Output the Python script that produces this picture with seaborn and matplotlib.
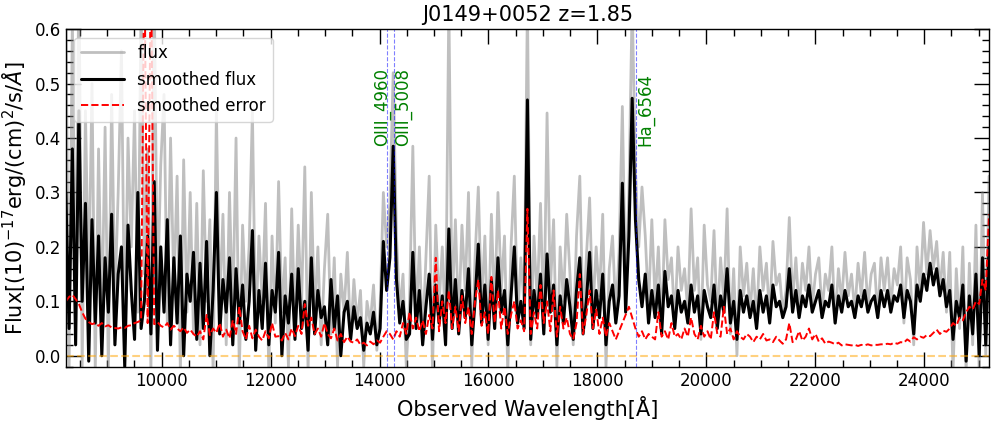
import numpy as np
import matplotlib
matplotlib.use("Agg")
import matplotlib.pyplot as plt
import seaborn as sns
from matplotlib.ticker import MultipleLocator

# spectrum, one value per ~60 A step (rows of 10 = 600 A)
wave_min, wave_max = 8240, 25190
redshift = 1.85

smooth_flux = [
    0.30, 0.05, 0.38, 0.02, 0.45, 0.10, 0.28, -0.01, 0.25, 0.06,   # 8240
    0.22, 0.00, 0.18, 0.08, 0.26, 0.02, 0.15, 0.20, -0.02, 0.24,   # 8840
    0.12, 0.03, 0.30, 0.05, 0.10, 0.22, 0.04, 0.32, 0.01, 0.20,    # 9440
    0.08, 0.25, 0.02, 0.18, 0.06, 0.22, 0.00, 0.15, 0.10, 0.19,    # 10040
    0.03, 0.17, 0.05, 0.21, 0.00, 0.12, 0.30, 0.04, 0.14, 0.08,    # 10640
    0.18, 0.02, 0.16, 0.06, 0.13, 0.03, 0.10, 0.23, 0.01, 0.12,    # 11240
    0.05, 0.17, 0.02, 0.12, 0.08, 0.19, 0.00, 0.11, 0.06, 0.15,    # 11840
    0.03, 0.16, 0.05, 0.10, 0.01, 0.18, 0.04, 0.12, 0.07, 0.09,    # 12440
    0.02, 0.14, 0.05, 0.11, 0.00, 0.08, 0.10, 0.03, 0.09, 0.05,    # 13040
    0.07, 0.01, 0.06, 0.04, 0.08, 0.02, 0.05, 0.21, 0.12, 0.18,    # 13640
    0.385, 0.14, 0.06, 0.10, 0.03, 0.04, 0.19, 0.05, 0.12, 0.02,   # 14240
    0.09, 0.15, 0.03, 0.13, 0.06, 0.11, 0.02, 0.233, 0.05, 0.14,   # 14840
    0.04, 0.12, 0.07, 0.16, 0.02, 0.10, 0.205, 0.06, 0.13, 0.03,   # 15440
    0.14, 0.05, 0.18, 0.08, 0.12, 0.02, 0.11, 0.20, 0.06, 0.10,    # 16040
    0.05, 0.47, 0.03, 0.12, 0.07, 0.15, 0.04, 0.187, 0.08, 0.13,   # 16640
    0.02, 0.11, 0.06, 0.14, 0.09, 0.03, 0.12, 0.18, 0.04, 0.10,    # 17240
    0.19, 0.05, 0.12, 0.07, 0.15, 0.02, 0.10, 0.13, 0.06, 0.11,    # 17840
    0.317, 0.08, 0.22, 0.473, 0.25, 0.14, 0.09, 0.15, 0.06, 0.12,  # 18440
    0.07, 0.13, 0.04, 0.155, 0.09, 0.11, 0.05, 0.12, 0.08, 0.10,   # 19040
    0.06, 0.13, 0.08, 0.11, 0.04, 0.12, 0.09, 0.07, 0.13, 0.05,    # 19640
    0.11, 0.08, 0.16, 0.06, 0.10, 0.03, 0.12, 0.08, 0.11, 0.07,    # 20240
    0.10, 0.05, 0.12, 0.08, 0.11, 0.06, 0.13, 0.09, 0.10, 0.07,    # 20840
    0.09, 0.16, 0.08, 0.12, 0.07, 0.11, 0.09, 0.13, 0.08, 0.10,    # 21440
    0.12, 0.07, 0.10, 0.09, 0.13, 0.06, 0.11, 0.08, 0.12, 0.09,    # 22040
    0.10, 0.07, 0.11, 0.09, 0.12, 0.08, 0.10, 0.11, 0.07, 0.12,    # 22640
    0.09, 0.12, 0.08, 0.11, 0.10, 0.13, 0.07, 0.12, 0.10, 0.04,    # 23240
    0.13, 0.10, 0.15, 0.12, 0.17, 0.13, 0.16, 0.11, 0.14, 0.09,    # 23840
    0.12, 0.03, 0.10, 0.07, 0.13, -0.01, 0.11, 0.04, 0.15, 0.00,   # 24440
    0.18, 0.02, 0.20,                                              # 25040
]

raw_flux = [
    0.65, -0.03, 0.62, 0.08, 0.70, -0.02, 0.45, 0.12, 0.50, -0.03,
    0.38, 0.05, 0.42, -0.03, 0.48, 0.10, 0.30, 0.56, 0.02, 0.40,
    0.20, 0.45, 0.08, 0.65, 0.15, 0.38, -0.03, 0.68, 0.10, 0.35,
    0.48, 0.06, 0.40, 0.12, 0.33, -0.03, 0.36, 0.08, 0.30, 0.04,
    0.28, 0.02, 0.34, 0.10, 0.25, -0.03, 0.45, 0.09, 0.26, 0.02,
    0.30, 0.07, 0.40, -0.03, 0.24, 0.10, 0.20, 0.45, 0.04, 0.22,
    0.10, 0.28, -0.03, 0.22, 0.06, 0.32, 0.08, 0.18, -0.02, 0.27,
    0.05, 0.24, 0.09, 0.347, -0.03, 0.30, 0.07, 0.20, 0.02, 0.16,
    0.26, 0.04, 0.18, -0.02, 0.15, 0.08, 0.19, 0.03, 0.14, 0.06,
    0.12, -0.02, 0.10, 0.06, 0.13, 0.01, 0.09, 0.30, 0.20, 0.28,
    0.52, 0.22, 0.08, 0.15, -0.02, 0.10, 0.385, 0.06, 0.20, 0.03,
    0.18, 0.33, -0.03, 0.24, 0.09, 0.20, 0.04, 0.65, 0.08, 0.25,
    0.06, 0.24, 0.12, 0.30, -0.02, 0.18, 0.31, 0.09, 0.22, 0.02,
    0.26, 0.08, 0.30, 0.12, 0.22, -0.03, 0.20, 0.33, 0.07, 0.18,
    0.09, 0.65, 0.02, 0.22, 0.10, 0.28, 0.05, 0.446, 0.12, 0.25,
    -0.02, 0.20, 0.10, 0.26, 0.15, 0.02, 0.22, 0.33, 0.06, 0.18,
    0.29, 0.08, 0.20, 0.11, 0.26, -0.02, 0.16, 0.22, 0.08, 0.19,
    0.458, 0.12, 0.30, 0.65, 0.34, 0.20, 0.31, 0.22, 0.09, 0.25,
    0.10, 0.20, 0.05, 0.25, 0.14, 0.18, 0.06, 0.20, 0.12, 0.16,
    0.08, 0.27, 0.12, 0.18, 0.03, 0.24, 0.13, 0.10, 0.23, 0.06,
    0.18, 0.10, 0.27, 0.04, 0.16, 0.00, 0.20, 0.11, 0.17, 0.08,
    0.16, 0.06, 0.20, 0.12, 0.17, 0.07, 0.21, 0.13, 0.15, 0.08,
    0.12, 0.254, 0.10, 0.18, 0.08, 0.17, 0.12, 0.20, 0.09, 0.15,
    0.18, 0.08, 0.15, 0.12, 0.20, 0.06, 0.16, 0.10, 0.19, 0.11,
    0.15, 0.08, 0.17, 0.11, 0.19, 0.09, 0.15, 0.17, 0.07, 0.18,
    0.12, 0.18, 0.09, 0.16, 0.13, 0.20, 0.06, 0.18, 0.14, 0.02,
    0.20, 0.12, 0.245, 0.15, 0.23, 0.16, 0.21, 0.12, 0.19, 0.08,
    0.19, -0.03, 0.16, 0.05, 0.20, -0.03, 0.17, 0.02, 0.24, -0.03,
    0.30, 0.00, 0.33,
]

smooth_error = [
    0.100, 0.108, 0.112, 0.104, 0.095, 0.080, 0.068, 0.062, 0.058, 0.060,
    0.055, 0.060, 0.054, 0.056, 0.052, 0.051, 0.050, 0.052, 0.051, 0.055,
    0.056, 0.060, 0.062, 0.065, 0.750, 0.060, 0.750, 0.058, 0.062, 0.055,
    0.052, 0.060, 0.048, 0.055, 0.050, 0.045, 0.052, 0.042, 0.048, 0.040,
    0.035, 0.045, 0.030, 0.075, 0.038, 0.050, 0.042, 0.060, 0.035, 0.048,
    0.032, 0.065, 0.040, 0.090, 0.045, 0.030, 0.055, 0.032, 0.048, 0.035,
    0.028, 0.045, 0.032, 0.060, 0.035, 0.036, 0.028, 0.042, 0.030, 0.050,
    0.036, 0.055, 0.040, 0.095, 0.055, 0.070, 0.040, 0.050, 0.035, 0.060,
    0.040, 0.032, 0.050, 0.028, 0.040, 0.025, 0.035, 0.026, 0.024, 0.030,
    0.020, 0.024, 0.019, 0.026, 0.021, 0.028, 0.024, 0.035, 0.045, 0.040,
    0.030, 0.045, 0.035, 0.060, 0.040, 0.080, 0.050, 0.070, 0.045, 0.065,
    0.040, 0.075, 0.050, 0.180, 0.045, 0.100, 0.060, 0.120, 0.050, 0.090,
    0.045, 0.110, 0.060, 0.090, 0.040, 0.100, 0.140, 0.055, 0.080, 0.040,
    0.145, 0.060, 0.120, 0.050, 0.090, 0.040, 0.075, 0.100, 0.050, 0.065,
    0.045, 0.270, 0.040, 0.080, 0.050, 0.130, 0.060, 0.100, 0.045, 0.120,
    0.035, 0.090, 0.050, 0.070, 0.040, 0.030, 0.060, 0.150, 0.040, 0.075,
    0.120, 0.050, 0.085, 0.040, 0.070, 0.035, 0.060, 0.045, 0.030, 0.045,
    0.060, 0.075, 0.090, 0.070, 0.050, 0.035, 0.045, 0.030, 0.040, 0.035,
    0.030, 0.080, 0.035, 0.045, 0.030, 0.060, 0.035, 0.040, 0.030, 0.050,
    0.035, 0.070, 0.040, 0.030, 0.055, 0.035, 0.045, 0.030, 0.080, 0.040,
    0.035, 0.090, 0.040, 0.050, 0.030, 0.045, 0.035, 0.030, 0.040, 0.035,
    0.025, 0.035, 0.030, 0.040, 0.028, 0.030, 0.025, 0.035, 0.028, 0.022,
    0.030, 0.060, 0.025, 0.030, 0.045, 0.028, 0.035, 0.050, 0.030, 0.040,
    0.026, 0.032, 0.022, 0.026, 0.024, 0.021, 0.024, 0.019, 0.021, 0.020,
    0.019, 0.020, 0.018, 0.020, 0.019, 0.021, 0.019, 0.020, 0.020, 0.021,
    0.021, 0.022, 0.021, 0.024, 0.022, 0.025, 0.024, 0.030, 0.026, 0.034,
    0.030, 0.035, 0.033, 0.038, 0.036, 0.042, 0.048, 0.040, 0.046, 0.044,
    0.050, 0.060, 0.055, 0.070, 0.065, 0.080, 0.090, 0.085, 0.100, 0.095,
    0.140, 0.120, 0.260,
]

line_names = ["OIII_4960", "OIII_5008", "Ha_6564"]
line_rest = [4960, 5008, 6564]
label_shift = [-97, 157, 167]   # where the rotated labels sit, relative to the line

wave = np.linspace(wave_min, wave_max, len(smooth_flux))

sns.set_style("ticks")
plt.rcParams["font.family"] = ["DejaVu Sans"]
plt.rcParams["mathtext.fontset"] = "dejavusans"
for key in ["text.color", "axes.labelcolor", "xtick.color", "ytick.color", "axes.edgecolor"]:
    plt.rcParams[key] = "black"

fig = plt.figure(figsize=(9.97, 4.23), dpi=100)
ax = fig.add_axes([0.066, 0.132, 0.926, 0.799])

sns.lineplot(x=wave, y=raw_flux, color="grey", alpha=0.5, lw=2.0,
             label="flux", ax=ax, estimator=None, sort=False)
sns.lineplot(x=wave, y=smooth_flux, color="black", lw=2.2,
             label="smoothed flux", ax=ax, estimator=None, sort=False)
sns.lineplot(x=wave, y=smooth_error, color="red", lw=1.4, linestyle="--",
             label="smoothed error", ax=ax, estimator=None, sort=False)

ax.axhline(0, color="orange", alpha=0.5, ls="--", lw=1.5)

for name, rest, shift in zip(line_names, line_rest, label_shift):
    obs = rest * (1 + redshift)
    ax.axvline(obs, color="blue", ls="--", lw=0.8, alpha=0.5)
    ax.text(obs + shift, 0.385, name, rotation=90, color="green",
            fontsize=12, ha="center", va="bottom")

ax.set_xlim(wave_min, wave_max)
ax.set_ylim(-0.021, 0.6)
ax.xaxis.set_major_locator(MultipleLocator(2000))
ax.xaxis.set_minor_locator(MultipleLocator(500))
ax.yaxis.set_major_locator(MultipleLocator(0.1))
ax.yaxis.set_minor_locator(MultipleLocator(0.02))
ax.tick_params(which="both", direction="in", top=True, right=True, labelsize=12,
               colors="black")
ax.tick_params(which="major", length=11, width=1)
ax.tick_params(which="minor", length=5, width=1)
for sp in ax.spines.values():
    sp.set_color("black")
    sp.set_linewidth(1)

ax.set_xlabel("Observed Wavelength[Å]", fontsize=15)
ax.set_ylabel(r"Flux[(10)$^{-17}$erg/(cm)$^2$/s/$\AA$]", fontsize=15)
ax.set_title("J0149+0052 z=1.85", fontsize=15)
ax.legend(loc="upper left", fontsize=12, handlelength=2.6)

fig.savefig("out.png", dpi=100)
